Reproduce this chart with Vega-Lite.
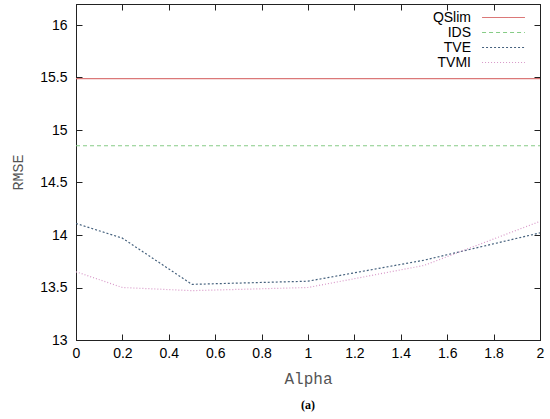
{
  "$schema": "https://vega.github.io/schema/vega-lite/v6.json",
  "autosize": "none",
  "width": 464,
  "height": 336,
  "padding": {"left": 76, "top": 4, "right": 10, "bottom": 79},
  "background": "white",
  "config": {
    "view": {"stroke": "#222", "strokeWidth": 1},
    "axis": {"grid": false, "domainColor": "#222", "tickColor": "#222", "labelFont": "Liberation Sans", "labelFontSize": 14, "labelColor": "#000", "titleFont": "Liberation Mono", "titleFontSize": 16, "titleFontWeight": "normal", "titleColor": "#555"}
  },
  "title": {"text": "(a)", "orient": "bottom", "font": "Liberation Serif", "fontSize": 12, "fontWeight": "bold", "color": "#000", "offset": 14},
  "data": {"values": [
    {"alpha": 0, "rmse": 15.49, "method": "QSlim"},
    {"alpha": 2, "rmse": 15.49, "method": "QSlim"},
    {"alpha": 0, "rmse": 14.85, "method": "IDS"},
    {"alpha": 2, "rmse": 14.85, "method": "IDS"},
    {"alpha": 0, "rmse": 14.11, "method": "TVE"},
    {"alpha": 0.2, "rmse": 13.97, "method": "TVE"},
    {"alpha": 0.5, "rmse": 13.53, "method": "TVE"},
    {"alpha": 1, "rmse": 13.56, "method": "TVE"},
    {"alpha": 1.5, "rmse": 13.76, "method": "TVE"},
    {"alpha": 2, "rmse": 14.02, "method": "TVE"},
    {"alpha": 0, "rmse": 13.65, "method": "TVMI"},
    {"alpha": 0.2, "rmse": 13.5, "method": "TVMI"},
    {"alpha": 0.5, "rmse": 13.47, "method": "TVMI"},
    {"alpha": 1, "rmse": 13.5, "method": "TVMI"},
    {"alpha": 1.5, "rmse": 13.71, "method": "TVMI"},
    {"alpha": 2, "rmse": 14.13, "method": "TVMI"}
  ]},
  "layer": [
    {
      "mark": {"type": "line", "strokeWidth": 1.2, "clip": true},
      "encoding": {
        "x": {"field": "alpha", "type": "quantitative", "scale": {"domain": [0, 2], "nice": false}, "axis": {"title": "Alpha", "format": "~g", "values": [0, 0.2, 0.4, 0.6, 0.8, 1, 1.2, 1.4, 1.6, 1.8, 2], "tickSize": -6, "labelPadding": 12, "titlePadding": 10, "labelFlush": false}},
        "y": {"field": "rmse", "type": "quantitative", "scale": {"domain": [13, 16.2], "nice": false, "zero": false}, "axis": {"title": "RMSE", "titleFontSize": 15, "format": "~g", "values": [13, 13.5, 14, 14.5, 15, 15.5, 16], "tickSize": -6, "labelPadding": 15, "titlePadding": 14}},
        "color": {"field": "method", "type": "nominal", "scale": {"domain": ["QSlim", "IDS", "TVE", "TVMI"], "range": ["#db7878", "#86cc86", "#46627e", "#d898c8"]}, "legend": {"title": null, "orient": "none", "legendX": 416, "legendY": 2, "padding": 4, "symbolType": "M-3.3,0H3.3", "symbolSize": 169, "symbolStrokeWidth": 1.2, "labelAlign": "right", "labelOffset": -40, "labelFont": "Liberation Sans", "labelFontSize": 14, "labelColor": "#000", "rowPadding": 0}},
        "strokeDash": {"field": "method", "type": "nominal", "scale": {"domain": ["QSlim", "IDS", "TVE", "TVMI"], "range": [[1, 0], [4, 3], [2, 2], [1, 2]]}, "legend": null}
      }
    },
    {
      "mark": {"type": "line", "opacity": 0},
      "encoding": {
        "x": {"field": "alpha", "type": "quantitative", "axis": {"orient": "top", "labels": false, "title": null, "values": [0, 0.2, 0.4, 0.6, 0.8, 1, 1.2, 1.4, 1.6, 1.8, 2], "tickSize": -6}},
        "y": {"field": "rmse", "type": "quantitative", "axis": {"orient": "right", "labels": false, "title": null, "values": [13, 13.5, 14, 14.5, 15, 15.5, 16], "tickSize": -6}}
      }
    }
  ],
  "resolve": {"axis": {"x": "independent", "y": "independent"}}
}
